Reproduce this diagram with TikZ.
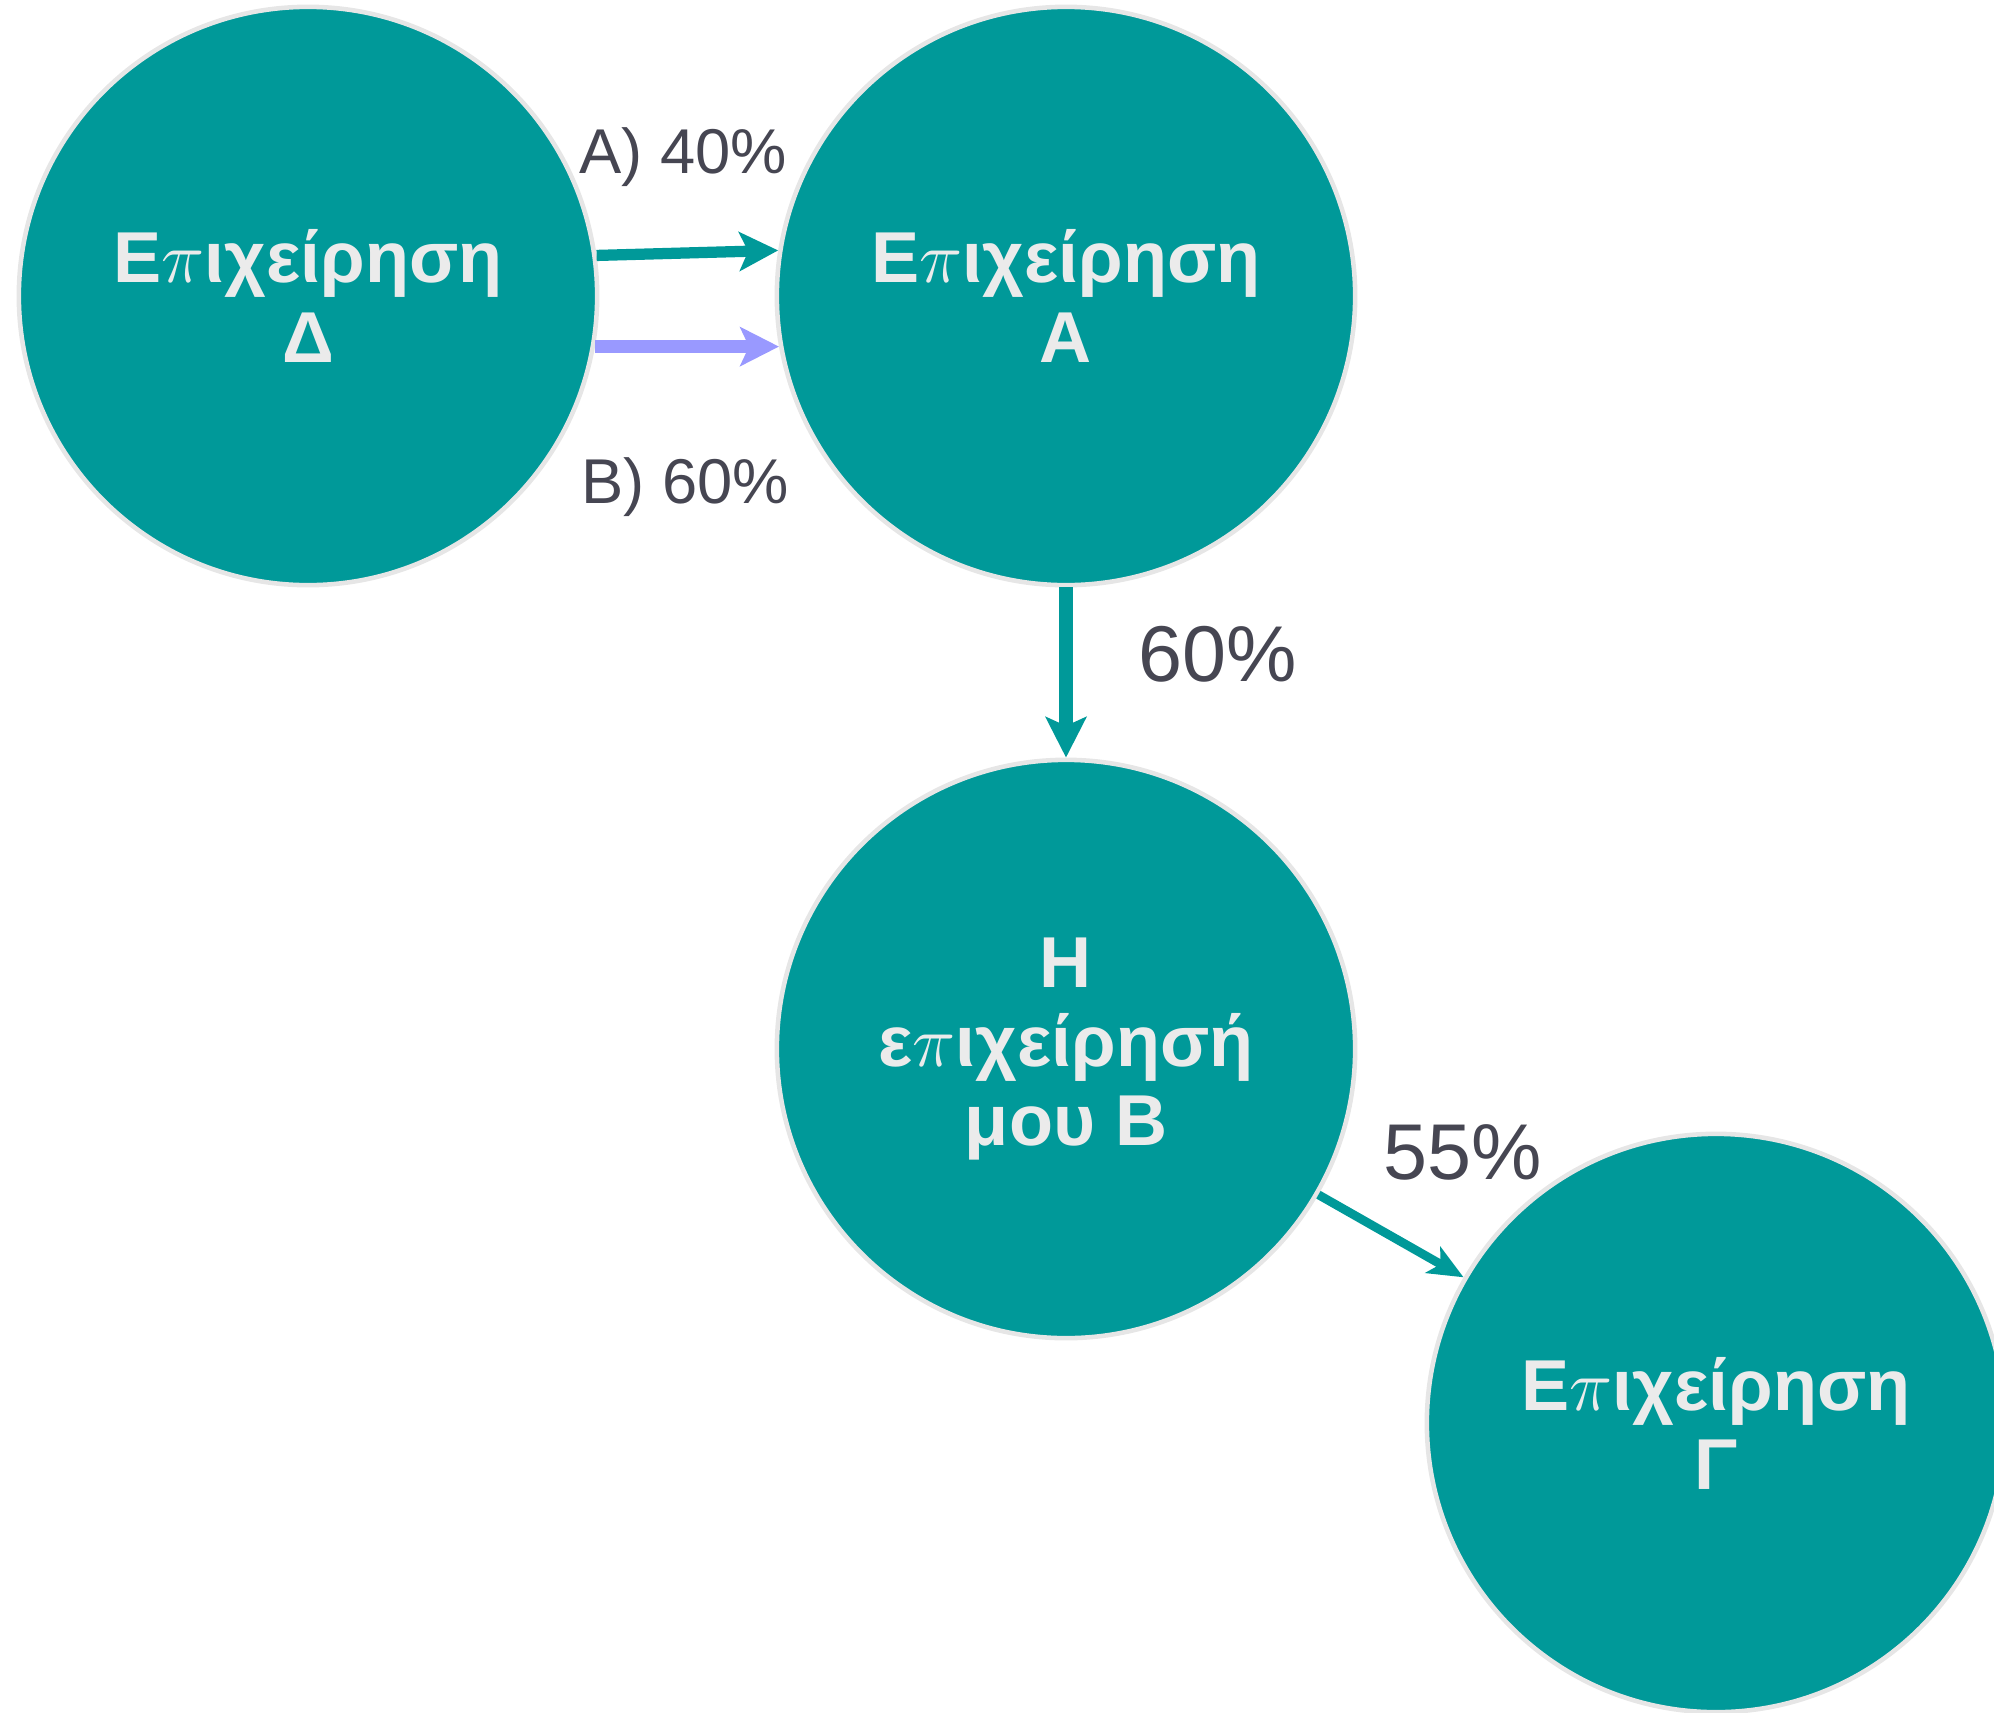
\documentclass[tikz,border=0pt]{standalone}
\usepackage{fontspec}
\setmainfont{Liberation Sans}
\newfontfamily\firmfont{Liberation Sans}
\usetikzlibrary{arrows.meta}
\begin{document}
\begin{tikzpicture}[x=0.01cm, y=-0.01cm,
  firm/.style={circle, fill=firmfill, draw=firmring, line width=1.3pt, minimum size=5.78cm, inner sep=0pt,
    text=firmtext, align=center, font=\firmfont\bfseries\fontsize{20.5}{22.5}\selectfont},
  share/.style={anchor=base west, inner sep=0pt, text=sharetext, font=\fontsize{18}{20}\selectfont},
  bigshare/.style={share, font=\fontsize{22.5}{24}\selectfont},
  link/.style={-{Stealth[length=11pt, width=11pt, inset=2.5pt]}, line width=3.2pt, draw=firmfill}]
\definecolor{firmfill}{HTML}{009999}
\definecolor{firmring}{HTML}{E6E6E6}
\definecolor{firmtext}{HTML}{EBEBEB}
\definecolor{sharetext}{HTML}{464652}
\definecolor{optionb}{HTML}{9999FF}
\useasboundingbox (0,0) rectangle (1994,1712);
\node[firm] (D) at (308,296) {E$\pi$ιχείρηση\\Δ};
\node[firm] (A) at (1066,296) {E$\pi$ιχείρηση\\Α};
\node[firm] (B) at (1066,1049) {Η\\ε$\pi$ιχείρησή\\μου Β};
\node[firm] (G) at (1716,1423) {E$\pi$ιχείρηση\\Γ};
\draw[link] (D.8) -- (A.171.5);
\draw[link, draw=optionb, line width=3.7pt] (D.-10) -- (A.190);
\draw[link, line width=4pt, -{Stealth[length=11.5pt, width=11.5pt, inset=2.5pt]}] (A.south) -- (B.north);
\draw[link, line width=2.5pt, -{Stealth[length=10pt, width=8.5pt, inset=2.5pt]}] (B.-30.6) -- (G.150.3);
\node[share] (lblA) at (579,173) {A) 40\%};
\node[share] (lblB) at (581,503) {B) 60\%};
\node[bigshare] (lblAB) at (1138,681) {60\%};
\node[bigshare] (lblBG) at (1383,1179) {55\%};
\end{tikzpicture}
\end{document}
